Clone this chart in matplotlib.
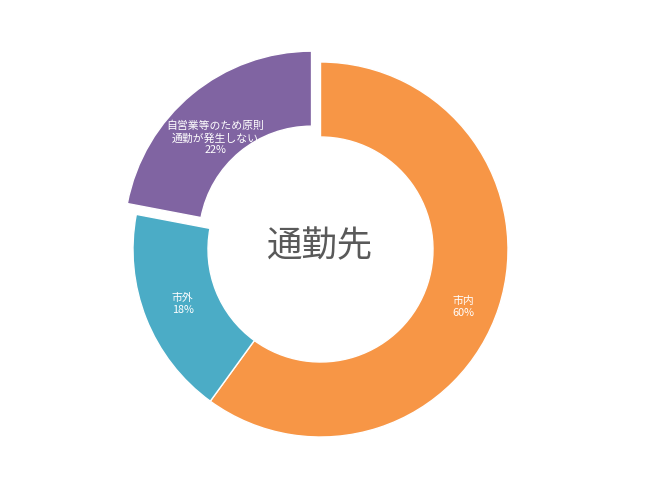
import numpy as np
import matplotlib
matplotlib.use("Agg")
import matplotlib.pyplot as plt

plt.rcParams['font.family'] = ['Noto Sans CJK JP', 'DejaVu Sans']

# 通勤先の内訳 (%)
labels = ['市内', '市外', '自営業等のため原則\n通勤が発生しない']
values = [60, 18, 22]
colors = ['#F79646', '#4BACC6', '#8064A2']
explode = [0, 0, 0.075]

W, H = 650, 487
R = 187.5              # outer radius in pixels
cx, cy = 320.5, 249.5  # centre in pixels from top-left

fig = plt.figure(figsize=(W / 100, H / 100), dpi=100)
ax = fig.add_axes([0, 0, 1, 1])

wedges, _ = ax.pie(values, colors=colors, explode=explode, startangle=90,
                   counterclock=False, radius=1,
                   wedgeprops=dict(width=0.4, edgecolor='white', linewidth=1))

# labels in the middle of each ring segment (with small nudges like Excel)
label_r = [0.8, 0.79, 0.8]
nudge = [(0, -0.06), (0, 0), (-0.005, -0.08)]
for w, lab, v, r, ex, (nx, ny) in zip(wedges, labels, values, label_r, explode, nudge):
    ang = np.deg2rad((w.theta1 + w.theta2) / 2)
    x = (r + ex) * np.cos(ang) + nx
    y = (r + ex) * np.sin(ang) + ny
    ax.text(x, y, f'{lab}\n{v}%', ha='center', va='center', color='white',
            fontsize=7.8, linespacing=1.2)

ax.text(0, 0.02, '通勤先', ha='center', va='center', fontsize=25.5,
        color='#595959')

ax.set_xlim(-cx / R, (W - cx) / R)
ax.set_ylim(-(H - cy) / R, cy / R)
ax.set_aspect('auto')
ax.axis('off')

fig.savefig('out.png', dpi=100, facecolor='white')
